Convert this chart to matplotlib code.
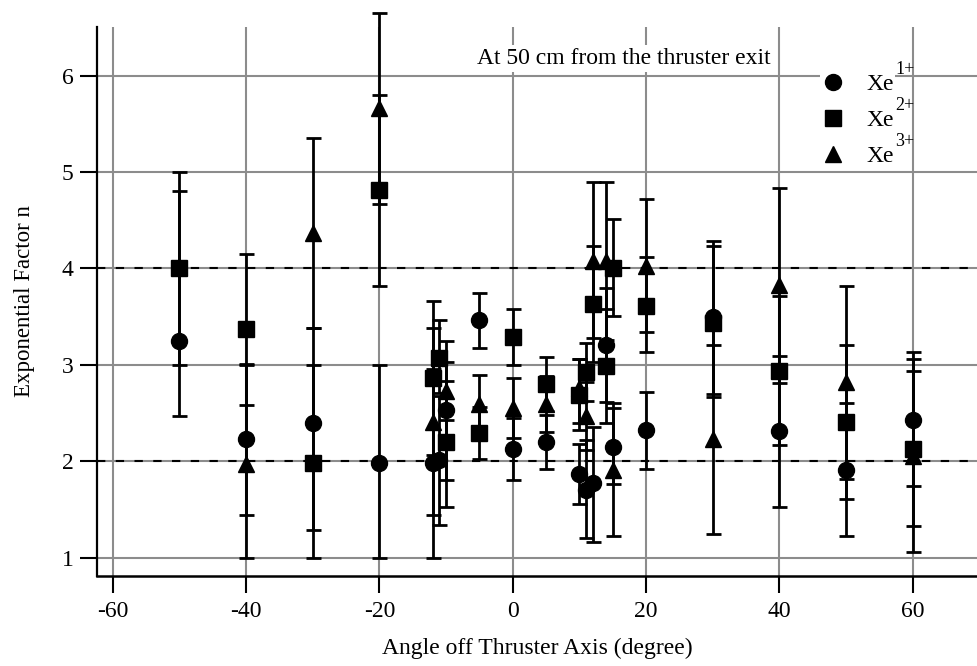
"""
Exponential factor n versus angle off the thruster axis, 50 cm from exit.
Igor-style layout: offset bottom axis, grey grid, dashed guides at n=2 and n=4.
"""

import matplotlib

matplotlib.use("Agg")
import matplotlib.pyplot as plt
from matplotlib.lines import Line2D
import numpy as np

plt.rcParams["font.family"] = ["Liberation Serif", "DejaVu Serif"]
plt.rcParams["axes.unicode_minus"] = False

# Xe1+ (circles)
angle_1 = [-50, -40, -30, -20, -12, -11, -10, -5, 0, 5, 10, 11, 12, 14, 15, 20, 30, 40, 50, 60]
n_1 = [3.25, 2.23, 2.40, 1.98, 1.98, 2.01, 2.53, 3.47, 2.13, 2.20, 1.87, 1.70, 1.77, 3.21, 2.15, 2.32, 3.50, 2.31, 1.91, 2.43]
lo_1 = [2.47, 1.44, 1.29, 1.00, 1.00, 1.34, 1.81, 3.18, 1.81, 1.92, 1.56, 1.20, 1.16, 2.61, 1.76, 1.92, 2.70, 1.53, 1.22, 1.74]
hi_1 = [4.80, 3.01, 3.38, 3.00, 2.96, 2.68, 3.25, 3.75, 2.45, 2.48, 2.18, 2.22, 2.36, 3.80, 2.55, 2.72, 4.29, 3.09, 2.60, 3.13]

# Xe2+ (squares)
angle_2 = [-50, -40, -30, -20, -12, -11, -10, -5, 0, 5, 10, 11, 12, 14, 15, 20, 30, 40, 50, 60]
n_2 = [4.00, 3.37, 1.98, 4.81, 2.86, 3.07, 2.20, 2.29, 3.29, 2.80, 2.69, 2.93, 3.63, 2.99, 4.01, 3.61, 3.43, 2.94, 2.41, 2.13]
lo_2 = [3.00, 2.58, 1.00, 3.82, 2.06, 2.71, 1.53, 2.02, 3.00, 2.52, 2.32, 2.63, 3.03, 2.40, 3.51, 3.13, 2.67, 2.17, 1.61, 1.33]
hi_2 = [5.00, 4.15, 3.00, 5.80, 3.66, 3.47, 2.83, 2.56, 3.58, 3.08, 3.06, 3.23, 4.23, 3.58, 4.51, 4.12, 4.23, 3.71, 3.21, 2.94]

# Xe3+ (triangles)
angle_3 = [-40, -30, -20, -12, -10, -5, 0, 5, 10, 11, 12, 14, 15, 20, 30, 40, 50, 60]
n_3 = [1.97, 4.37, 5.66, 2.41, 2.73, 2.59, 2.55, 2.59, 2.76, 2.47, 4.08, 4.08, 1.91, 4.03, 2.23, 3.83, 2.82, 2.05]
lo_3 = [1.00, 3.38, 4.67, 1.44, 2.43, 2.29, 2.24, 2.30, 2.40, 2.12, 3.28, 3.26, 1.22, 3.34, 1.25, 2.81, 1.82, 1.06]
hi_3 = [3.00, 5.35, 6.65, 3.38, 3.03, 2.89, 2.86, 2.88, 3.06, 2.82, 4.90, 4.90, 2.60, 4.72, 3.21, 4.84, 3.82, 3.06]

charges = ["1+", "2+", "3+"]

series = [
    (angle_1, n_1, lo_1, hi_1, "o", 11.5),
    (angle_2, n_2, lo_2, hi_2, "s", 12.0),
    (angle_3, n_3, lo_3, hi_3, "^", 12.0),
]

FS = 17
GRID = "#8c8c8c"

fig = plt.figure(figsize=(9.77, 6.66), dpi=100)
ax = fig.add_axes([97 / 977, 90 / 666, 880 / 977, 549 / 666])

handles = []
for x, y, lo, hi, mk, ms in series:
    y = np.array(y)
    err = [y - np.array(lo), np.array(hi) - y]
    ax.errorbar(x, y, yerr=err, fmt=mk, ms=ms, color="black", ecolor="black",
                elinewidth=2.0, capsize=5.4, capthick=2.0, clip_on=False, zorder=4)
    handles.append(Line2D([], [], marker=mk, ms=ms, color="black", linestyle="none"))

ax.set_xlim(-62.35, 69.65)
ax.set_ylim(0.81, 6.505)
ax.set_xticks([-60, -40, -20, 0, 20, 40, 60])
ax.set_yticks([1, 2, 3, 4, 5, 6])
ax.grid(True, color=GRID, linewidth=1.5, zorder=0)
ax.set_axisbelow(True)
for yv in (2, 4):
    ax.axhline(yv, color="black", linewidth=1.5, dashes=(4, 5), zorder=1)

ax.spines["top"].set_visible(False)
ax.spines["right"].set_visible(False)
ax.spines["left"].set_linewidth(1.6)
ax.spines["bottom"].set_linewidth(1.8)
ax.tick_params(direction="out", length=12, width=1.5, labelsize=FS)
ax.tick_params(axis="x", pad=6)
ax.tick_params(axis="y", pad=5)

ax.set_xlabel("Angle off Thruster Axis (degree)", fontsize=FS)
ax.xaxis.set_label_coords(0.5, -0.113)
ax.set_ylabel("Exponential Factor n", fontsize=16.5)
ax.yaxis.set_label_coords(-0.071, 0.5)

ax.text(38.7, 6.07, "At 50 cm from the thruster exit", ha="right", va="bottom", fontsize=FS,
        bbox=dict(facecolor="white", edgecolor="none", pad=2), zorder=3)

leg = ax.legend(handles=handles, labels=["Xe"] * 3, loc="upper left",
                bbox_to_anchor=(0.822, 0.9175), fontsize=FS, frameon=True, fancybox=False,
                borderpad=0.05, borderaxespad=0, handlelength=1.0, handletextpad=0.9,
                labelspacing=0.62)
leg.get_frame().set_facecolor("white")
leg.get_frame().set_edgecolor("none")
leg.get_frame().set_alpha(1.0)
leg.set_zorder(5)

# raised charge labels, placed after the legend text so they sit above "Xe"
for txt, q in zip(leg.get_texts(), charges):
    ax.annotate(q, xy=(1.0, 1.0), xycoords=txt, xytext=(1, 0), textcoords="offset points",
                ha="left", va="baseline", fontsize=13, zorder=6)

fig.savefig("out.png", dpi=100)
